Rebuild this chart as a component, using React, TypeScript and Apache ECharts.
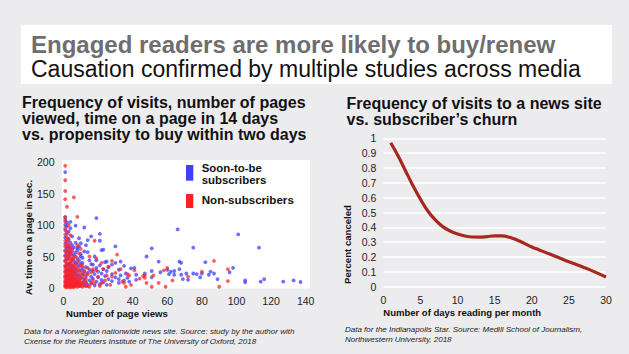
import React, { useEffect, useRef } from "react";
import * as echarts from "echarts";

const FONT = "'Liberation Sans', Arial, Helvetica, sans-serif";

const HEADER_LINE_1 = "Engaged readers are more likely to buy/renew";
const HEADER_LINE_2 = "Causation confirmed by multiple studies across media";
const LEFT_TITLE = [
  "Frequency of visits, number of pages",
  "viewed, time on a page in 14 days",
  "vs. propensity to buy within two days",
];
const RIGHT_TITLE = ["Frequency of visits to a news site", "vs. subscriber\u2019s churn"];
const LEFT_NOTE = [
  "Data for a Norwegian nationwide news site. Source: study by the author with",
  "Cxense for the Reuters Institute of The University of Oxford, 2018",
];
const RIGHT_NOTE = [
  "Data for the Indianapolis Star. Source: Medill School of Journalism,",
  "Northwestern University, 2018",
];
const LEGEND_NAMES = ["Soon-to-be subscribers", "Non-subscribers"];

// Soon-to-be subscribers: [page views, avg seconds on page]
const BLUE_POINTS: [number, number][] = [
  [1, 3], [1, 10], [1, 18], [1, 26], [1, 34], [1, 44], [1, 52], [1, 60], [1, 70], [1, 80], [1, 92], [1, 100], [1, 108], [1, 184], [1, 112],
  [2, 5], [2, 13], [2, 21], [2, 29], [2, 38], [2, 46], [2, 56], [2, 65], [2, 74], [2, 86], [2, 98], [2, 104],
  [3, 4], [3, 12], [3, 20], [3, 28], [3, 37], [3, 50], [3, 58], [3, 66], [3, 78], [3, 90],
  [4, 6], [4, 14], [4, 23], [4, 31], [4, 40], [4, 54], [4, 62], [4, 72], [4, 95], [4, 105],
  [5, 3], [5, 11], [5, 19], [5, 27], [5, 36], [5, 46], [5, 58], [5, 68], [5, 82],
  [6, 7], [6, 15], [6, 25], [6, 33], [6, 43], [6, 52], [6, 64],
  [7, 4], [7, 12], [7, 22], [7, 30], [7, 40], [7, 56], [7, 72], [7, 99],
  [8, 8], [8, 17], [8, 26], [8, 38], [8, 47], [8, 60], [8, 64],
  [9, 3], [9, 11], [9, 20], [9, 34], [9, 44], [9, 66], [9, 79],
  [10, 6], [10, 16], [10, 28], [10, 39], [10, 50], [10, 54], [10, 71],
  [11, 9], [11, 22], [11, 31], [11, 40], [11, 48],
  [12, 4], [12, 14], [12, 26], [12, 58], [12, 96],
  [13, 8], [13, 19], [13, 33], [13, 68],
  [14, 5], [14, 24], [14, 57], [14, 76],
  [15, 12], [15, 29], [15, 44],
  [16, 7], [16, 18], [16, 38], [16, 82],
  [17, 15], [17, 27], [17, 37],
  [18, 4], [18, 22], [18, 50],
  [19, 10], [19, 32], [19, 44], [19, 111],
  [20, 17], [20, 26],
  [21, 6], [21, 36], [21, 75], [21, 86],
  [22, 13], [22, 23], [22, 60],
  [23, 9], [23, 30], [23, 61],
  [24, 19], [24, 41],
  [25, 5], [25, 27], [25, 42],
  [26, 14], [26, 33],
  [28, 11], [28, 22], [28, 37],
  [30, 17], [30, 40], [30, 66],
  [32, 8], [32, 14], [32, 29],
  [33, 20], [33, 42],
  [35, 12], [35, 35],
  [36, 23], [37, 16], [38, 10], [39, 31], [41, 32], [42, 13], [42, 21],
  [47, 23], [48, 50], [51, 17], [51, 27], [51, 63], [55, 42], [56, 25],
  [60, 29], [61, 22], [62, 26], [64, 21], [64, 27], [66, 93], [67, 30], [67, 42],
  [68, 21], [68, 40], [69, 14], [71, 23], [72, 13], [75, 23], [75, 64], [77, 22],
  [79, 17], [80, 23], [82, 41], [84, 21], [85, 26], [87, 23], [89, 14],
  [96, 25], [98, 32], [101, 85], [105, 9], [105, 12], [113, 64], [114, 10],
  [116, 14], [127, 10], [133, 12], [137, 9.5],
];

// Non-subscribers: [page views, avg seconds on page]
const RED_POINTS: [number, number][] = [
  [1, 2], [1, 5], [1, 8], [1, 12], [1, 16], [1, 20], [1, 25], [1, 30], [1, 36], [1, 42], [1, 50], [1, 58], [1, 66], [1, 75], [1, 85], [1, 95], [1, 105],
  [1, 113], [1, 141], [1, 154], [1, 171], [1, 194],
  [2, 1], [2, 4], [2, 7], [2, 10], [2, 14], [2, 18], [2, 22], [2, 27], [2, 33], [2, 40], [2, 47], [2, 55], [2, 63], [2, 70], [2, 80], [2, 89], [2, 129],
  [3, 2], [3, 6], [3, 9], [3, 13], [3, 17], [3, 21], [3, 26], [3, 32], [3, 38], [3, 45], [3, 52], [3, 60], [3, 68], [3, 76], [3, 100],
  [4, 1], [4, 3], [4, 7], [4, 11], [4, 15], [4, 19], [4, 24], [4, 29], [4, 35], [4, 41], [4, 48], [4, 57], [4, 65], [4, 84],
  [5, 2], [5, 5], [5, 9], [5, 14], [5, 18], [5, 23], [5, 28], [5, 34], [5, 44], [5, 53], [5, 62],
  [6, 1], [6, 4], [6, 8], [6, 12], [6, 17], [6, 22], [6, 30], [6, 38], [6, 48], [6, 144],
  [7, 3], [7, 6], [7, 10], [7, 15], [7, 20], [7, 27], [7, 35], [7, 50],
  [8, 2], [8, 5], [8, 9], [8, 14], [8, 21], [8, 31], [8, 42], [8, 68], [8, 113],
  [9, 4], [9, 8], [9, 13], [9, 20], [9, 28], [9, 55],
  [10, 3], [10, 7], [10, 15], [10, 24], [10, 36], [10, 62],
  [11, 2], [11, 9], [11, 18], [11, 35],
  [12, 5], [12, 12], [12, 22], [12, 27],
  [13, 3], [13, 10], [13, 15],
  [14, 3], [14, 22], [14, 32], [15, 2], [15, 50], [16, 8], [16, 25], [17, 12], [17, 30],
  [18, 7], [18, 75], [19, 28], [19, 47], [20, 18], [21, 3], [22, 8], [22, 40],
  [23, 30], [24, 12], [25, 20], [26, 34], [27, 5], [28, 18], [28, 43], [30, 24],
  [31, 53], [33, 30], [34, 10], [35, 8], [36, 2], [37, 22], [38, 20], [39, 5],
  [41, 28], [44, 15], [46, 19], [47, 16], [47, 20], [48, 8], [51, 2], [52, 20],
  [55, 8], [58, 28], [59, 2], [60, 32], [63, 12], [72, 18], [80, 26], [87, 43],
  [90, 2], [95, 11], [95, 30],
];

// Percent canceled by number of days reading per month
const DAYS = [1, 2, 3, 4, 5, 6, 7, 8, 9, 10, 11, 12, 13, 14, 15, 16, 17, 18, 19, 20, 21, 22, 23, 24, 25, 26, 27, 28, 29, 30];
const CANCELED = [
  0.97, 0.88, 0.78, 0.68, 0.59, 0.51, 0.45, 0.405, 0.375, 0.355,
  0.342, 0.335, 0.334, 0.338, 0.342, 0.342, 0.333, 0.315, 0.292, 0.268,
  0.248, 0.228, 0.208, 0.188, 0.168, 0.149, 0.13, 0.11, 0.088, 0.065,
];

const BLUE = "#3f3fff";
const RED = "#ff2020";
const LINE_RED = "#a8281e";

function txt(text: string, x: number, y: number, size: number, opts: any = {}) {
  return {
    type: "text",
    x,
    y,
    rotation: opts.rotation || 0,
    silent: true,
    z: 50,
    style: {
      text,
      fill: opts.fill || "#111",
      fontSize: size,
      fontWeight: opts.weight || "normal",
      fontStyle: opts.style || "normal",
      fontFamily: FONT,
      align: opts.align || "left",
      verticalAlign: "middle",
    },
  };
}

export default function App() {
  const ref = useRef<HTMLDivElement>(null);

  useEffect(() => {
    if (!ref.current) return;
    const chart = echarts.init(ref.current, null, { renderer: "svg" });
    const tickStyle = { color: "#222", fontSize: 10.5, fontFamily: FONT };
    const option: any = {
      animation: false,
      backgroundColor: "#ecebed",
      grid: [
        { left: 63.5, right: 323.3, top: 162, bottom: 66, show: false },
        { left: 383.3, right: 23, top: 138.3, bottom: 67.3, show: false },
      ],
      xAxis: [
        {
          gridIndex: 0,
          type: "value",
          min: 0,
          max: 140,
          interval: 20,
          axisLine: { show: false },
          axisTick: { show: false },
          splitLine: { show: false },
          axisLabel: { ...tickStyle, margin: 7 },
        },
        {
          gridIndex: 1,
          type: "value",
          min: 0,
          max: 30,
          interval: 5,
          axisLine: { show: false },
          axisTick: { show: false },
          splitLine: { show: false },
          axisLabel: { ...tickStyle, margin: 8 },
        },
      ],
      yAxis: [
        {
          gridIndex: 0,
          type: "value",
          min: 0,
          max: 200,
          interval: 50,
          axisLine: { show: false },
          axisTick: { show: false },
          splitLine: { show: false },
          axisLabel: { ...tickStyle, margin: 9 },
        },
        {
          gridIndex: 1,
          type: "value",
          min: 0,
          max: 1,
          interval: 0.1,
          axisLine: { show: false },
          axisTick: { show: false },
          splitLine: { show: true, lineStyle: { color: "#ffffff", width: 1.5 } },
          axisLabel: {
            ...tickStyle,
            margin: 7,
            formatter: (v: number) => (v === 0 ? "0" : v >= 0.999 ? "1" : v.toFixed(1)),
          },
        },
      ],
      series: [
        {
          name: LEGEND_NAMES[0],
          type: "scatter",
          xAxisIndex: 0,
          yAxisIndex: 0,
          symbolSize: 3.8,
          itemStyle: { color: BLUE, opacity: 0.75 },
          data: BLUE_POINTS,
          z: 3,
        },
        {
          name: LEGEND_NAMES[1],
          type: "scatter",
          xAxisIndex: 0,
          yAxisIndex: 0,
          symbolSize: 3.8,
          itemStyle: { color: RED, opacity: 0.72 },
          data: RED_POINTS,
          z: 4,
        },
        {
          name: "Percent canceled",
          type: "line",
          xAxisIndex: 1,
          yAxisIndex: 1,
          smooth: 0.4,
          showSymbol: false,
          symbol: "none",
          lineStyle: { color: LINE_RED, width: 3.2 },
          data: DAYS.map((d, i) => [d, CANCELED[i]]),
          z: 5,
        },
      ],
      graphic: {
        elements: [
          { type: "rect", silent: true, z: -10, shape: { x: 21, y: 25, width: 591, height: 59 }, style: { fill: "#ffffff" } },
          { type: "rect", silent: true, z: -10, shape: { x: 61.7, y: 160, width: 248.3, height: 128.5 }, style: { fill: "#ffffff" } },
          txt(HEADER_LINE_1, 31, 44.3, 24, { weight: "bold", fill: "#6e6e6e" }),
          txt(HEADER_LINE_2, 31, 69, 23, { fill: "#111" }),
          txt(LEFT_TITLE[0], 22, 102.4, 16, { weight: "bold" }),
          txt(LEFT_TITLE[1], 22, 118.4, 16, { weight: "bold" }),
          txt(LEFT_TITLE[2], 22, 134.4, 16, { weight: "bold" }),
          txt(RIGHT_TITLE[0], 346.5, 103.4, 16, { weight: "bold" }),
          txt(RIGHT_TITLE[1], 346.5, 119.4, 16, { weight: "bold" }),
          { type: "rect", silent: true, z: 50, shape: { x: 186, y: 165, width: 7.3, height: 15.7 }, style: { fill: BLUE } },
          { type: "rect", silent: true, z: 50, shape: { x: 186, y: 194, width: 7.3, height: 14 }, style: { fill: RED } },
          txt("Soon-to-be", 201.7, 168.4, 11.4, { weight: "bold" }),
          txt("subscribers", 201.7, 180.4, 11.4, { weight: "bold" }),
          txt(LEGEND_NAMES[1], 201.7, 199, 11.6, { weight: "bold" }),
          txt("Number of page views", 66, 313.8, 9.6, { weight: "bold" }),
          txt("Av. time on a page in sec.", 28, 237.5, 9.5, { weight: "bold", rotation: Math.PI / 2, align: "center" }),
          txt("Number of days reading per month", 383.3, 312.6, 9.5, { weight: "bold" }),
          txt("Percent canceled", 347, 244.5, 9.6, { weight: "bold", rotation: Math.PI / 2, align: "center" }),
          txt(LEFT_NOTE[0], 24, 331, 8, { style: "italic", fill: "#222" }),
          txt(LEFT_NOTE[1], 24, 341, 8, { style: "italic", fill: "#222" }),
          txt(RIGHT_NOTE[0], 345, 329, 8, { style: "italic", fill: "#222" }),
          txt(RIGHT_NOTE[1], 345, 339, 8, { style: "italic", fill: "#222" }),
        ],
      },
    };
    chart.setOption(option);
    return () => chart.dispose();
  }, []);

  return (
    <div
      ref={ref}
      style={{ position: "fixed", left: 0, top: 0, width: 629, height: 354 }}
    />
  );
}
